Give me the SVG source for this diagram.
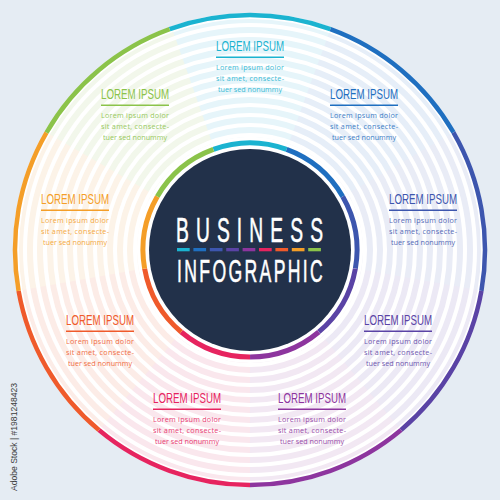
<svg xmlns="http://www.w3.org/2000/svg" width="500" height="500" viewBox="0 0 500 500">
<defs>
<style>
.seg{fill:none;stroke-dasharray:40 320}
.wedge{fill:none;stroke-width:118;stroke-dasharray:40.6 319.4}
.gap{fill:none;stroke:#fff;stroke-width:4}
.outer{stroke-width:4.5}
.inner{stroke-width:5}
.t{font-family:"Liberation Sans",Arial,sans-serif;font-size:15px;fill:currentColor}
.b{font-family:"Open Sans","Liberation Sans",sans-serif;font-size:7.2px;fill:currentColor;opacity:.88}
.lbl line{stroke:currentColor;stroke-width:1.6}
.big{font-family:"Liberation Sans",Arial,sans-serif;fill:#fff;stroke:#fff;stroke-width:0.6}
</style>
</defs>
<rect width="500" height="500" fill="#e5ecf3"/>
<circle cx="250" cy="250" r="237" fill="#fff"/>
<g id="stripes">
<circle class="wedge" cx="250" cy="250" r="172" pathLength="360" transform="rotate(-110 250 250)" stroke="#e6f5fa"/>
<circle class="wedge" cx="250" cy="250" r="172" pathLength="360" transform="rotate(-70 250 250)" stroke="#e6eef8"/>
<circle class="wedge" cx="250" cy="250" r="172" pathLength="360" transform="rotate(-30 250 250)" stroke="#e9ecf6"/>
<circle class="wedge" cx="250" cy="250" r="172" pathLength="360" transform="rotate(10 250 250)" stroke="#ece9f5"/>
<circle class="wedge" cx="250" cy="250" r="172" pathLength="360" transform="rotate(50 250 250)" stroke="#f2e8f3"/>
<circle class="wedge" cx="250" cy="250" r="172" pathLength="360" transform="rotate(90 250 250)" stroke="#fae7ed"/>
<circle class="wedge" cx="250" cy="250" r="172" pathLength="360" transform="rotate(130 250 250)" stroke="#fcece7"/>
<circle class="wedge" cx="250" cy="250" r="172" pathLength="360" transform="rotate(170 250 250)" stroke="#fcf3e8"/>
<circle class="wedge" cx="250" cy="250" r="172" pathLength="360" transform="rotate(210 250 250)" stroke="#f2f7eb"/>
<circle class="gap" cx="250" cy="250" r="115"/>
<circle class="gap" cx="250" cy="250" r="125"/>
<circle class="gap" cx="250" cy="250" r="135"/>
<circle class="gap" cx="250" cy="250" r="145"/>
<circle class="gap" cx="250" cy="250" r="155"/>
<circle class="gap" cx="250" cy="250" r="165"/>
<circle class="gap" cx="250" cy="250" r="175"/>
<circle class="gap" cx="250" cy="250" r="185"/>
<circle class="gap" cx="250" cy="250" r="195"/>
<circle class="gap" cx="250" cy="250" r="205"/>
<circle class="gap" cx="250" cy="250" r="215"/>
<circle class="gap" cx="250" cy="250" r="225"/>
</g>
<g id="outer-ring">
<circle class="seg outer" cx="250" cy="250" r="235" pathLength="360" transform="rotate(-110 250 250)" stroke="#1bb3d0"/>
<circle class="seg outer" cx="250" cy="250" r="235" pathLength="360" transform="rotate(-70 250 250)" stroke="#1f6fc0"/>
<circle class="seg outer" cx="250" cy="250" r="235" pathLength="360" transform="rotate(-30 250 250)" stroke="#3d56ae"/>
<circle class="seg outer" cx="250" cy="250" r="235" pathLength="360" transform="rotate(10 250 250)" stroke="#5a43a5"/>
<circle class="seg outer" cx="250" cy="250" r="235" pathLength="360" transform="rotate(50 250 250)" stroke="#8d359e"/>
<circle class="seg outer" cx="250" cy="250" r="235" pathLength="360" transform="rotate(90 250 250)" stroke="#e6245f"/>
<circle class="seg outer" cx="250" cy="250" r="235" pathLength="360" transform="rotate(130 250 250)" stroke="#ef5a2b"/>
<circle class="seg outer" cx="250" cy="250" r="235" pathLength="360" transform="rotate(170 250 250)" stroke="#f49e28"/>
<circle class="seg outer" cx="250" cy="250" r="235" pathLength="360" transform="rotate(210 250 250)" stroke="#8bc34a"/>
</g>
<g id="center">
<circle cx="250" cy="250" r="110" fill="#fff"/>
<circle class="seg inner" cx="250" cy="250" r="107" pathLength="360" transform="rotate(-110 250 250)" stroke="#1bb3d0"/>
<circle class="seg inner" cx="250" cy="250" r="107" pathLength="360" transform="rotate(-70 250 250)" stroke="#1f6fc0"/>
<circle class="seg inner" cx="250" cy="250" r="107" pathLength="360" transform="rotate(-30 250 250)" stroke="#3d56ae"/>
<circle class="seg inner" cx="250" cy="250" r="107" pathLength="360" transform="rotate(10 250 250)" stroke="#5a43a5"/>
<circle class="seg inner" cx="250" cy="250" r="107" pathLength="360" transform="rotate(50 250 250)" stroke="#8d359e"/>
<circle class="seg inner" cx="250" cy="250" r="107" pathLength="360" transform="rotate(90 250 250)" stroke="#e6245f"/>
<circle class="seg inner" cx="250" cy="250" r="107" pathLength="360" transform="rotate(130 250 250)" stroke="#ef5a2b"/>
<circle class="seg inner" cx="250" cy="250" r="107" pathLength="360" transform="rotate(170 250 250)" stroke="#f49e28"/>
<circle class="seg inner" cx="250" cy="250" r="107" pathLength="360" transform="rotate(210 250 250)" stroke="#8bc34a"/>
<circle cx="250" cy="250" r="101" fill="#22314a"/>
<text class="big" transform="scale(0.55 1)" x="320" y="242" font-size="35" letter-spacing="12.9">BUSINESS</text>
<g id="color-bars">
<rect x="177" y="248" width="12.7" height="3.3" fill="#1bb3d0"/>
<rect x="193.4" y="248" width="12.7" height="3.3" fill="#1f6fc0"/>
<rect x="209.8" y="248" width="12.7" height="3.3" fill="#3d56ae"/>
<rect x="226.2" y="248" width="12.7" height="3.3" fill="#5a43a5"/>
<rect x="242.6" y="248" width="12.7" height="3.3" fill="#8d359e"/>
<rect x="259" y="248" width="12.7" height="3.3" fill="#e6245f"/>
<rect x="275.4" y="248" width="12.7" height="3.3" fill="#ef5a2b"/>
<rect x="291.8" y="248" width="12.7" height="3.3" fill="#f49e28"/>
<rect x="308.2" y="248" width="12.7" height="3.3" fill="#8bc34a"/>
</g>
<text class="big" transform="scale(0.55 1)" x="321.8" y="282" font-size="32" letter-spacing="4.3">INFOGRAPHIC</text>
</g>
<g id="item-1" class="lbl" style="color:#1bb3d0">
<text class="t" x="216" y="51" textLength="68" lengthAdjust="spacingAndGlyphs">LOREM IPSUM</text>
<line x1="216" y1="57.3" x2="284" y2="57.3"/>
<text class="b" x="216" y="69.5" textLength="68" lengthAdjust="spacing">Lorem ipsum dolor</text>
<text class="b" x="216" y="80.5" textLength="68" lengthAdjust="spacing">sit amet, consecte-</text>
<text class="b" x="250" y="91.5" text-anchor="middle">tuer sed nonummy</text>
</g>
<g id="item-2" class="lbl" style="color:#1f6fc0">
<text class="t" x="330" y="99" textLength="68" lengthAdjust="spacingAndGlyphs">LOREM IPSUM</text>
<line x1="330" y1="105.3" x2="398" y2="105.3"/>
<text class="b" x="330" y="117.5" textLength="68" lengthAdjust="spacing">Lorem ipsum dolor</text>
<text class="b" x="330" y="128.5" textLength="68" lengthAdjust="spacing">sit amet, consecte-</text>
<text class="b" x="364" y="139.5" text-anchor="middle">tuer sed nonummy</text>
</g>
<g id="item-3" class="lbl" style="color:#3d56ae">
<text class="t" x="389" y="204" textLength="68" lengthAdjust="spacingAndGlyphs">LOREM IPSUM</text>
<line x1="389" y1="210.3" x2="457" y2="210.3"/>
<text class="b" x="389" y="222.5" textLength="68" lengthAdjust="spacing">Lorem ipsum dolor</text>
<text class="b" x="389" y="233.5" textLength="68" lengthAdjust="spacing">sit amet, consecte-</text>
<text class="b" x="423" y="244.5" text-anchor="middle">tuer sed nonummy</text>
</g>
<g id="item-4" class="lbl" style="color:#5a43a5">
<text class="t" x="364" y="325" textLength="68" lengthAdjust="spacingAndGlyphs">LOREM IPSUM</text>
<line x1="364" y1="331.3" x2="432" y2="331.3"/>
<text class="b" x="364" y="343.5" textLength="68" lengthAdjust="spacing">Lorem ipsum dolor</text>
<text class="b" x="364" y="354.5" textLength="68" lengthAdjust="spacing">sit amet, consecte-</text>
<text class="b" x="398" y="365.5" text-anchor="middle">tuer sed nonummy</text>
</g>
<g id="item-5" class="lbl" style="color:#8d359e">
<text class="t" x="278" y="403" textLength="68" lengthAdjust="spacingAndGlyphs">LOREM IPSUM</text>
<line x1="278" y1="409.3" x2="346" y2="409.3"/>
<text class="b" x="278" y="421.5" textLength="68" lengthAdjust="spacing">Lorem ipsum dolor</text>
<text class="b" x="278" y="432.5" textLength="68" lengthAdjust="spacing">sit amet, consecte-</text>
<text class="b" x="312" y="443.5" text-anchor="middle">tuer sed nonummy</text>
</g>
<g id="item-6" class="lbl" style="color:#e6245f">
<text class="t" x="153" y="403" textLength="68" lengthAdjust="spacingAndGlyphs">LOREM IPSUM</text>
<line x1="153" y1="409.3" x2="221" y2="409.3"/>
<text class="b" x="153" y="421.5" textLength="68" lengthAdjust="spacing">Lorem ipsum dolor</text>
<text class="b" x="153" y="432.5" textLength="68" lengthAdjust="spacing">sit amet, consecte-</text>
<text class="b" x="187" y="443.5" text-anchor="middle">tuer sed nonummy</text>
</g>
<g id="item-7" class="lbl" style="color:#ef5a2b">
<text class="t" x="66" y="325" textLength="68" lengthAdjust="spacingAndGlyphs">LOREM IPSUM</text>
<line x1="66" y1="331.3" x2="134" y2="331.3"/>
<text class="b" x="66" y="343.5" textLength="68" lengthAdjust="spacing">Lorem ipsum dolor</text>
<text class="b" x="66" y="354.5" textLength="68" lengthAdjust="spacing">sit amet, consecte-</text>
<text class="b" x="100" y="365.5" text-anchor="middle">tuer sed nonummy</text>
</g>
<g id="item-8" class="lbl" style="color:#f49e28">
<text class="t" x="41" y="204" textLength="68" lengthAdjust="spacingAndGlyphs">LOREM IPSUM</text>
<line x1="41" y1="210.3" x2="109" y2="210.3"/>
<text class="b" x="41" y="222.5" textLength="68" lengthAdjust="spacing">Lorem ipsum dolor</text>
<text class="b" x="41" y="233.5" textLength="68" lengthAdjust="spacing">sit amet, consecte-</text>
<text class="b" x="75" y="244.5" text-anchor="middle">tuer sed nonummy</text>
</g>
<g id="item-9" class="lbl" style="color:#8bc34a">
<text class="t" x="101" y="99" textLength="68" lengthAdjust="spacingAndGlyphs">LOREM IPSUM</text>
<line x1="101" y1="105.3" x2="169" y2="105.3"/>
<text class="b" x="101" y="117.5" textLength="68" lengthAdjust="spacing">Lorem ipsum dolor</text>
<text class="b" x="101" y="128.5" textLength="68" lengthAdjust="spacing">sit amet, consecte-</text>
<text class="b" x="135" y="139.5" text-anchor="middle">tuer sed nonummy</text>
</g>
<text transform="translate(16.5 437) rotate(-90)" text-anchor="middle" font-family="'Liberation Sans',Arial,sans-serif" font-size="9" fill="#3c3c3c" textLength="108" lengthAdjust="spacingAndGlyphs">Adobe Stock | #1981248423</text>
</svg>
